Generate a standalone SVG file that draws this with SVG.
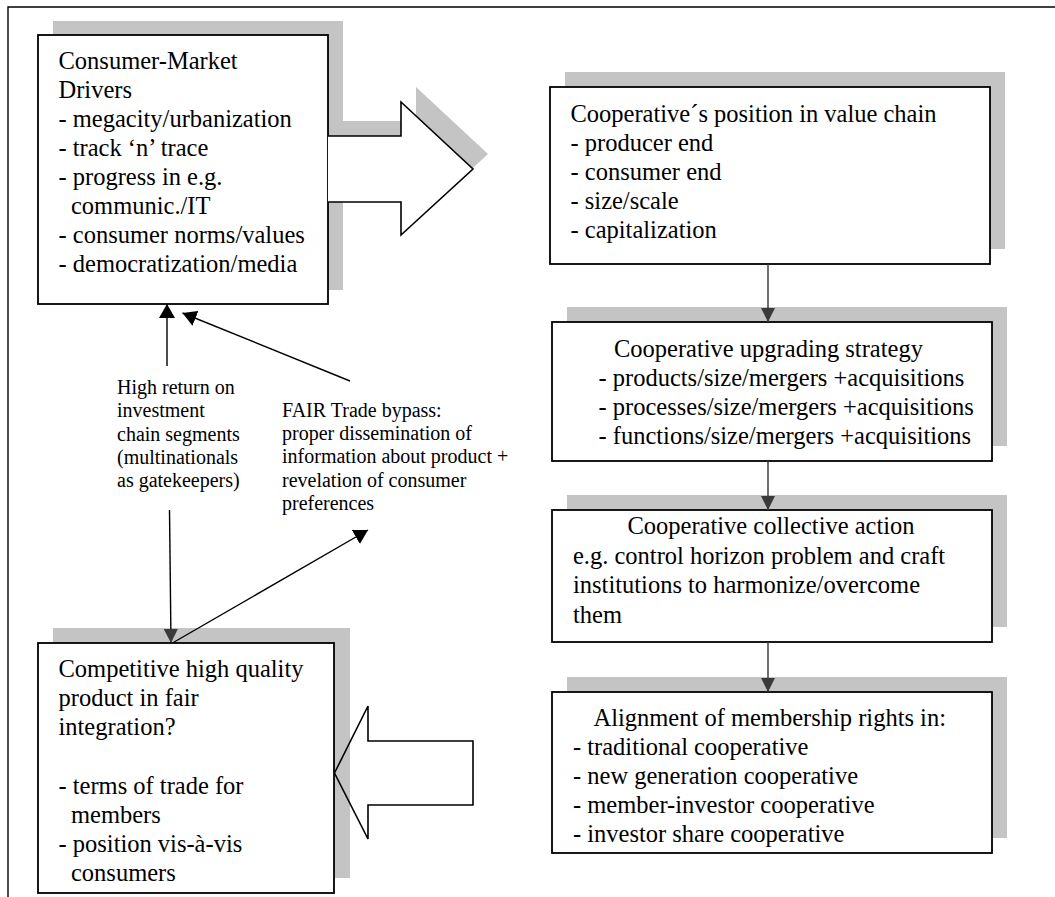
<svg xmlns="http://www.w3.org/2000/svg" width="1055" height="897" viewBox="0 0 1055 897">
<style>
  .shadow { fill: #c4c4c4; stroke: none; }
  .box { fill: #ffffff; stroke: #000000; stroke-width: 1.8; }
  .t { font-family: 'Liberation Serif', 'DejaVu Serif', serif; font-size: 24.5px; fill: #000000; }
  .lbl { font-family: 'Liberation Serif', 'DejaVu Serif', serif; font-size: 20px; fill: #000000; }
  .conn { stroke: #000000; stroke-width: 1.4; fill: none; }
  .conng { stroke: #333333; stroke-width: 1.4; fill: none; }
  .block { stroke: #000000; stroke-width: 1.6; }
</style>
<defs>
  <marker id="ah" viewBox="0 0 14 16" markerWidth="14" markerHeight="16" refX="14" refY="8" orient="auto" markerUnits="userSpaceOnUse">
    <path d="M0,0 L14,8 L0,16 Z" fill="#000000"/>
  </marker>
  <marker id="ahg" viewBox="0 0 14 14" markerWidth="14" markerHeight="14" refX="14" refY="7" orient="auto" markerUnits="userSpaceOnUse">
    <path d="M0,0 L14,7 L0,14 Z" fill="#3a3a3a"/>
  </marker>
</defs>
<rect width="1055" height="897" fill="#ffffff"/>
<path d="M8,897 V7 H1055" fill="none" stroke="#000000" stroke-width="1.4"/>

<g id="shadows">
  <rect class="shadow" x="53" y="21" width="290" height="269"/>
  <path class="shadow" d="M343,121 H416 V87 L488,154 L416,220 V187 H343 Z"/>
  <rect class="shadow" x="565" y="72" width="440" height="177"/>
  <rect class="shadow" x="567" y="307" width="440" height="139"/>
  <rect class="shadow" x="567" y="495" width="440" height="132"/>
  <rect class="shadow" x="567" y="677" width="440" height="161"/>
  <rect class="shadow" x="53" y="628" width="297" height="250"/>
</g>

<g id="consumer-market-drivers">
  <rect class="box" x="38" y="35" width="290" height="269"/>
  <text class="t" x="58.5" y="69">Consumer-Market</text>
  <text class="t" x="58.5" y="98">Drivers</text>
  <text class="t" x="58.5" y="127">- megacity/urbanization</text>
  <text class="t" x="58.5" y="156">- track ‘n’ trace</text>
  <text class="t" x="58.5" y="185">- progress in e.g.</text>
  <text class="t" x="71" y="214">communic./IT</text>
  <text class="t" x="58.5" y="243">- consumer norms/values</text>
  <text class="t" x="58.5" y="272">- democratization/media</text>
</g>

<g id="position-in-value-chain">
  <rect class="box" x="550" y="87" width="440" height="177"/>
  <text class="t" x="570.5" y="122">Cooperative´s position in value chain</text>
  <text class="t" x="570.5" y="151">- producer end</text>
  <text class="t" x="570.5" y="180">- consumer end</text>
  <text class="t" x="570.5" y="209">- size/scale</text>
  <text class="t" x="570.5" y="238">- capitalization</text>
</g>

<g id="upgrading-strategy">
  <rect class="box" x="552" y="322" width="440" height="139"/>
  <text class="t" x="614" y="356.5">Cooperative upgrading strategy</text>
  <text class="t" x="598.5" y="385.5">- products/size/mergers +acquisitions</text>
  <text class="t" x="598.5" y="414.5">- processes/size/mergers +acquisitions</text>
  <text class="t" x="598.5" y="443.5">- functions/size/mergers +acquisitions</text>
</g>

<g id="collective-action">
  <rect class="box" x="552" y="510" width="440" height="132"/>
  <text class="t" x="627.5" y="534">Cooperative collective action</text>
  <text class="t" x="573" y="563.5">e.g. control horizon problem and craft</text>
  <text class="t" x="573" y="593">institutions to harmonize/overcome</text>
  <text class="t" x="573" y="622.5">them</text>
</g>

<g id="membership-rights">
  <rect class="box" x="552" y="692" width="440" height="161"/>
  <text class="t" x="593.5" y="725.5">Alignment of membership rights in:</text>
  <text class="t" x="573" y="754.5">- traditional cooperative</text>
  <text class="t" x="573" y="783.5">- new generation cooperative</text>
  <text class="t" x="573" y="812.5">- member-investor cooperative</text>
  <text class="t" x="573" y="841.5">- investor share cooperative</text>
</g>

<g id="competitive-product">
  <rect class="box" x="38" y="643" width="296" height="250"/>
  <text class="t" x="58.5" y="677">Competitive high quality</text>
  <text class="t" x="58.5" y="706">product in fair</text>
  <text class="t" x="58.5" y="735">integration?</text>
  <text class="t" x="58.5" y="794">- terms of trade for</text>
  <text class="t" x="71" y="823">members</text>
  <text class="t" x="58.5" y="852">- position vis-à-vis</text>
  <text class="t" x="71" y="881">consumers</text>
</g>

<g id="connectors">
  <path class="block" fill="#ffffff" d="M328,136 H401 V102 L473,169 L401,235 V202 H328"/>
  <path class="block" fill="none" d="M334.5,773 L368,706 V741 H473 V805 H368 V839 Z"/>
  <line class="conng" x1="768" y1="264" x2="768" y2="322" marker-end="url(#ahg)"/>
  <line class="conng" x1="768" y1="461" x2="768" y2="510" marker-end="url(#ahg)"/>
  <line class="conng" x1="768" y1="642" x2="768" y2="692" marker-end="url(#ahg)"/>
  <line class="conn" x1="167" y1="366" x2="167" y2="304" marker-end="url(#ah)"/>
  <line class="conn" x1="350" y1="381" x2="182.5" y2="313" marker-end="url(#ah)"/>
  <line class="conn" x1="169.5" y1="510" x2="171" y2="643" marker-end="url(#ahg)"/>
  <line class="conn" x1="172.5" y1="643" x2="368" y2="530" marker-end="url(#ah)"/>
</g>

<g id="labels">
  <text class="lbl" x="117" y="394">High return on</text>
  <text class="lbl" x="117" y="417.3">investment</text>
  <text class="lbl" x="117" y="440.6">chain segments</text>
  <text class="lbl" x="117" y="464">(multinationals</text>
  <text class="lbl" x="117" y="487.3">as gatekeepers)</text>
  <text class="lbl" x="282" y="416.6">FAIR Trade bypass:</text>
  <text class="lbl" x="282" y="440">proper dissemination of</text>
  <text class="lbl" x="282" y="463.3">information about product +</text>
  <text class="lbl" x="282" y="486.6">revelation of consumer</text>
  <text class="lbl" x="282" y="510">preferences</text>
</g>
</svg>
